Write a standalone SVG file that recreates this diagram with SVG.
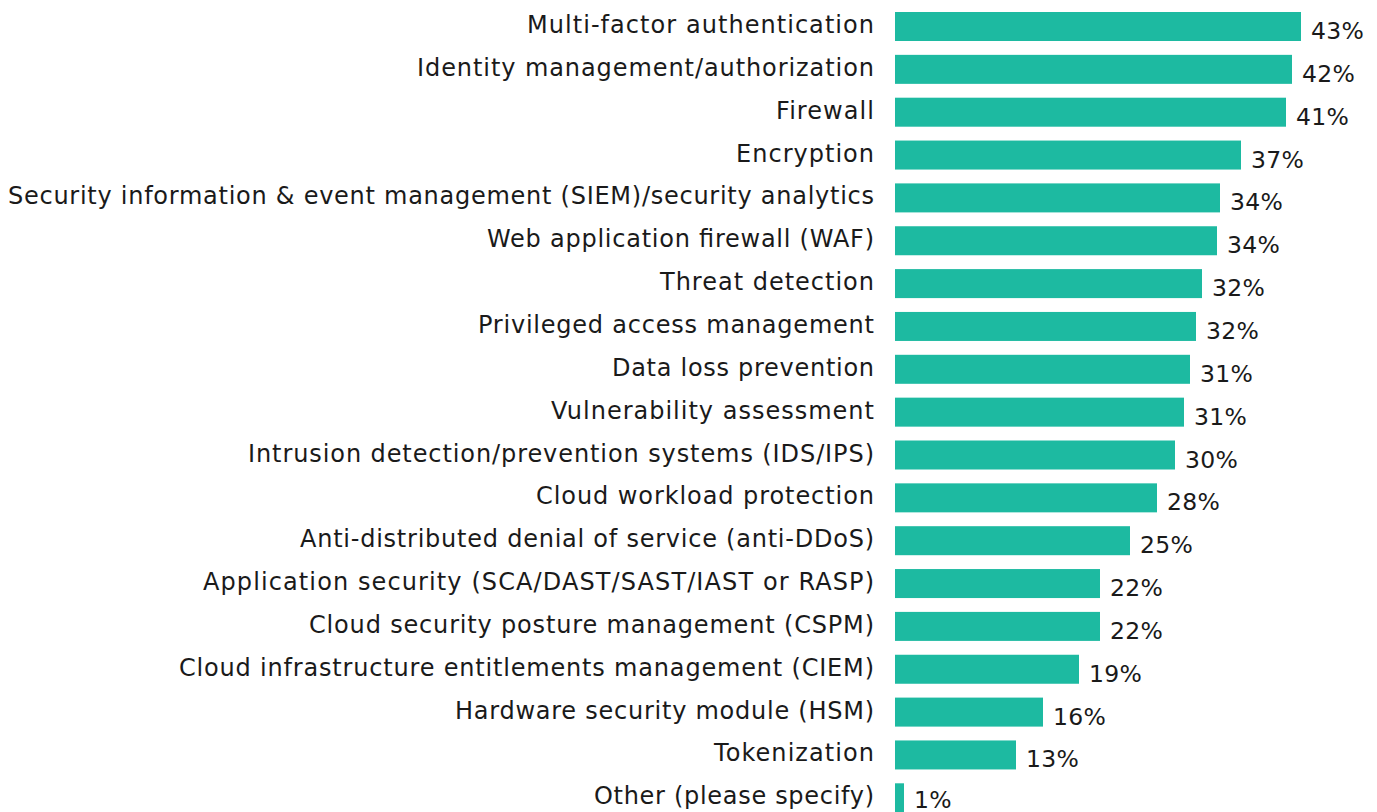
<svg xmlns="http://www.w3.org/2000/svg" width="1377" height="812" viewBox="0 0 1377 812">
<style>
.bar{fill:#1dbaa1}
.lbl{font-family:"DejaVu Sans","Liberation Sans",sans-serif;font-size:24px;fill:#1a1a1a;text-anchor:end}
.val{font-family:"DejaVu Sans","Liberation Sans",sans-serif;font-size:23.5px;fill:#1a1a1a;letter-spacing:0.3px}
</style>
<rect width="1377" height="812" fill="#ffffff"/>
<g id="connectors"/>
<g id="n0"><text class="lbl" x="874" y="33" textLength="347">Multi-factor authentication</text><rect class="bar" x="895" y="12" width="406" height="29"/><text class="val" x="1311" y="39">43%</text></g>
<g id="n1"><text class="lbl" x="874" y="75.85" textLength="457">Identity management/authorization</text><rect class="bar" x="895" y="54.85" width="397" height="29"/><text class="val" x="1302" y="81.85">42%</text></g>
<g id="n2"><text class="lbl" x="874" y="118.7" textLength="98">Firewall</text><rect class="bar" x="895" y="97.7" width="391" height="29"/><text class="val" x="1296" y="124.7">41%</text></g>
<g id="n3"><text class="lbl" x="874" y="161.55" textLength="138">Encryption</text><rect class="bar" x="895" y="140.55" width="346" height="29"/><text class="val" x="1251" y="167.55">37%</text></g>
<g id="n4"><text class="lbl" x="874" y="204.4" textLength="866">Security information &amp; event management (SIEM)/security analytics</text><rect class="bar" x="895" y="183.4" width="325" height="29"/><text class="val" x="1230" y="210.4">34%</text></g>
<g id="n5"><text class="lbl" x="874" y="247.25" textLength="387">Web application firewall (WAF)</text><rect class="bar" x="895" y="226.25" width="322" height="29"/><text class="val" x="1227" y="253.25">34%</text></g>
<g id="n6"><text class="lbl" x="874" y="290.1" textLength="214">Threat detection</text><rect class="bar" x="895" y="269.1" width="307" height="29"/><text class="val" x="1212" y="296.1">32%</text></g>
<g id="n7"><text class="lbl" x="874" y="332.95" textLength="396">Privileged access management</text><rect class="bar" x="895" y="311.95" width="301" height="29"/><text class="val" x="1206" y="338.95">32%</text></g>
<g id="n8"><text class="lbl" x="874" y="375.8" textLength="262">Data loss prevention</text><rect class="bar" x="895" y="354.8" width="295" height="29"/><text class="val" x="1200" y="381.8">31%</text></g>
<g id="n9"><text class="lbl" x="874" y="418.65" textLength="323">Vulnerability assessment</text><rect class="bar" x="895" y="397.65" width="289" height="29"/><text class="val" x="1194" y="424.65">31%</text></g>
<g id="n10"><text class="lbl" x="874" y="461.5" textLength="626">Intrusion detection/prevention systems (IDS/IPS)</text><rect class="bar" x="895" y="440.5" width="280" height="29"/><text class="val" x="1185" y="467.5">30%</text></g>
<g id="n11"><text class="lbl" x="874" y="504.35" textLength="338">Cloud workload protection</text><rect class="bar" x="895" y="483.35" width="262" height="29"/><text class="val" x="1167" y="510.35">28%</text></g>
<g id="n12"><text class="lbl" x="874" y="547.2" textLength="574">Anti-distributed denial of service (anti-DDoS)</text><rect class="bar" x="895" y="526.2" width="235" height="29"/><text class="val" x="1140" y="553.2">25%</text></g>
<g id="n13"><text class="lbl" x="874" y="590.05" textLength="671">Application security (SCA/DAST/SAST/IAST or RASP)</text><rect class="bar" x="895" y="569.05" width="205" height="29"/><text class="val" x="1110" y="596.05">22%</text></g>
<g id="n14"><text class="lbl" x="874" y="632.9" textLength="565">Cloud security posture management (CSPM)</text><rect class="bar" x="895" y="611.9" width="205" height="29"/><text class="val" x="1110" y="638.9">22%</text></g>
<g id="n15"><text class="lbl" x="874" y="675.75" textLength="695">Cloud infrastructure entitlements management (CIEM)</text><rect class="bar" x="895" y="654.75" width="184" height="29"/><text class="val" x="1089" y="681.75">19%</text></g>
<g id="n16"><text class="lbl" x="874" y="718.6" textLength="419">Hardware security module (HSM)</text><rect class="bar" x="895" y="697.6" width="148" height="29"/><text class="val" x="1053" y="724.6">16%</text></g>
<g id="n17"><text class="lbl" x="874" y="761.45" textLength="160">Tokenization</text><rect class="bar" x="895" y="740.45" width="121" height="29"/><text class="val" x="1026" y="767.45">13%</text></g>
<g id="n18"><text class="lbl" x="874" y="804.3" textLength="280">Other (please specify)</text><rect class="bar" x="895" y="783.3" width="9" height="29"/><text class="val" x="914" y="808">1%</text></g>
</svg>
